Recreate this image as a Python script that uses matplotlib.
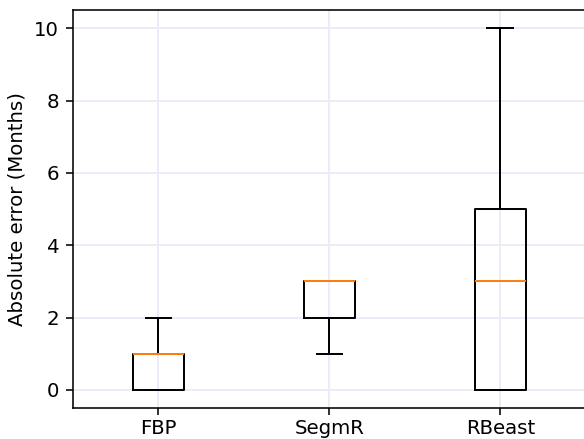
import matplotlib
matplotlib.use("Agg")
import matplotlib.pyplot as plt

methods = ["FBP", "SegmR", "RBeast"]
whisker_low = [0, 1, 0]
q1 = [0, 2, 0]
median = [1, 3, 3]
q3 = [1, 3, 5]
whisker_high = [2, 3, 10]

stats = []
for name, lo, a, m, b, hi in zip(methods, whisker_low, q1, median, q3, whisker_high):
    stats.append(dict(label=name, whislo=lo, q1=a, med=m, q3=b, whishi=hi, fliers=[]))

DPI = 142
fig = plt.figure(figsize=(584 / DPI, 439 / DPI), dpi=DPI)
ax = fig.add_axes([0.125, 0.0706, 0.878, 0.906])
ax.bxp(stats, showfliers=False)
ax.grid(True, color="#ebebfa", linewidth=1.0)
ax.set_axisbelow(True)
ax.set_ylabel("Absolute error (Months)")
ax.set_yticks([0, 2, 4, 6, 8, 10])
ax.tick_params(axis="x", pad=2)
fig.savefig("out.png", dpi=DPI)
